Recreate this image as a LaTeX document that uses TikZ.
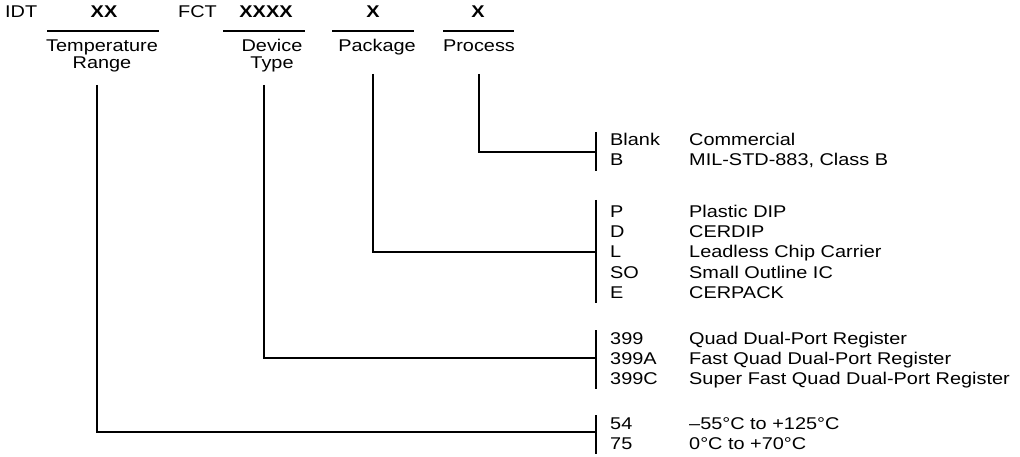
\documentclass[tikz,border=0pt]{standalone}
\usepackage{fontspec}
\setmainfont{Liberation Sans}[FakeStretch=1.17]
\begin{document}
\begin{tikzpicture}[x=1pt,y=-1pt,
  every node/.style={inner sep=0pt, font=\fontsize{17}{20}\selectfont},
  txt/.style={anchor=base west},
  ctr/.style={anchor=base},
  fld/.style={anchor=base, font=\fontsize{17}{20}\selectfont\bfseries},
  ln/.style={line width=1.5pt},
  ul/.style={line width=1.3pt}]
\useasboundingbox (0,0) rectangle (1020,457);
% header
\node[txt] (idt) at (5,18) {IDT};
\node[fld] (fxx) at (104,18) {XX};
\node[txt] (fct) at (178,18) {FCT};
\node[fld] (fdev) at (266,18) {XXXX};
\node[fld] (fpkg) at (373,18) {X};
\node[fld] (fproc) at (478,18) {X};
\coordinate (u1a) at (47,31); \coordinate (u1b) at (159,31);
\coordinate (u2a) at (223,31); \coordinate (u2b) at (305,31);
\coordinate (u3a) at (332,31); \coordinate (u3b) at (414,31);
\coordinate (u4a) at (443,31); \coordinate (u4b) at (514,31);
\draw[ul] (u1a) -- (u1b);
\draw[ul] (u2a) -- (u2b);
\draw[ul] (u3a) -- (u3b);
\draw[ul] (u4a) -- (u4b);
\node[ctr] (ltemp1) at (102,52) {Temperature};
\node[ctr] (ltemp2) at (102,69) {Range};
\node[ctr] (ldev1) at (272,52) {Device};
\node[ctr] (ldev2) at (272,69) {Type};
\node[ctr] (lpkg) at (377,52) {Package};
\node[ctr] (lproc) at (479,52) {Process};
% process group
\node[txt] (cblank) at (610,146) {Blank};
\node[txt] (dblank) at (689,146) {Commercial};
\node[txt] (cb) at (610,166) {B};
\node[txt] (db) at (689,166) {MIL-STD-883, Class B};
% package group
\node[txt] (cp) at (610,218) {P};
\node[txt] (dp) at (689,218) {Plastic DIP};
\node[txt] (cd) at (610,238) {D};
\node[txt] (dd) at (689,238) {CERDIP};
\node[txt] (cl) at (610,258) {L};
\node[txt] (dl) at (689,258) {Leadless Chip Carrier};
\node[txt] (cso) at (610,278) {SO};
\node[txt] (dso) at (689,278) {Small Outline IC};
\node[txt] (ce) at (610,298) {E};
\node[txt] (de) at (689,298) {CERPACK};
% device group
\node[txt] (c399) at (610,344) {399};
\node[txt] (d399) at (689,344) {Quad Dual-Port Register};
\node[txt] (c399a) at (610,364) {399A};
\node[txt] (d399a) at (689,364) {Fast Quad Dual-Port Register};
\node[txt] (c399c) at (610,384) {399C};
\node[txt] (d399c) at (689,384) {Super Fast Quad Dual-Port Register};
% temperature group
\node[txt] (c54) at (610,429) {54};
\node[txt] (d54) at (689,429) {–55°C to +125°C};
\node[txt] (c75) at (610,449) {75};
\node[txt] (d75) at (689,449) {0°C to +70°C};
% bars
\coordinate (b1t) at (596,132); \coordinate (b1b) at (596,171);
\coordinate (b2t) at (596,200); \coordinate (b2b) at (596,303);
\coordinate (b3t) at (596,330); \coordinate (b3b) at (596,389);
\coordinate (b4t) at (596,415); \coordinate (b4b) at (596,454);
\draw[ln] (b1t) -- (b1b);
\draw[ln] (b2t) -- (b2b);
\draw[ln] (b3t) -- (b3b);
\draw[ln] (b4t) -- (b4b);
% connectors
\coordinate (sproc) at (479,74); \coordinate (jproc) at (596,152);
\coordinate (spkg) at (373,74);  \coordinate (jpkg) at (596,252);
\coordinate (sdev) at (264,85);  \coordinate (jdev) at (596,358);
\coordinate (stemp) at (97,85);  \coordinate (jtemp) at (596,432);
\draw[ln] (sproc) |- (jproc);
\draw[ln] (spkg) |- (jpkg);
\draw[ln] (sdev) |- (jdev);
\draw[ln] (stemp) |- (jtemp);
\end{tikzpicture}
\end{document}
